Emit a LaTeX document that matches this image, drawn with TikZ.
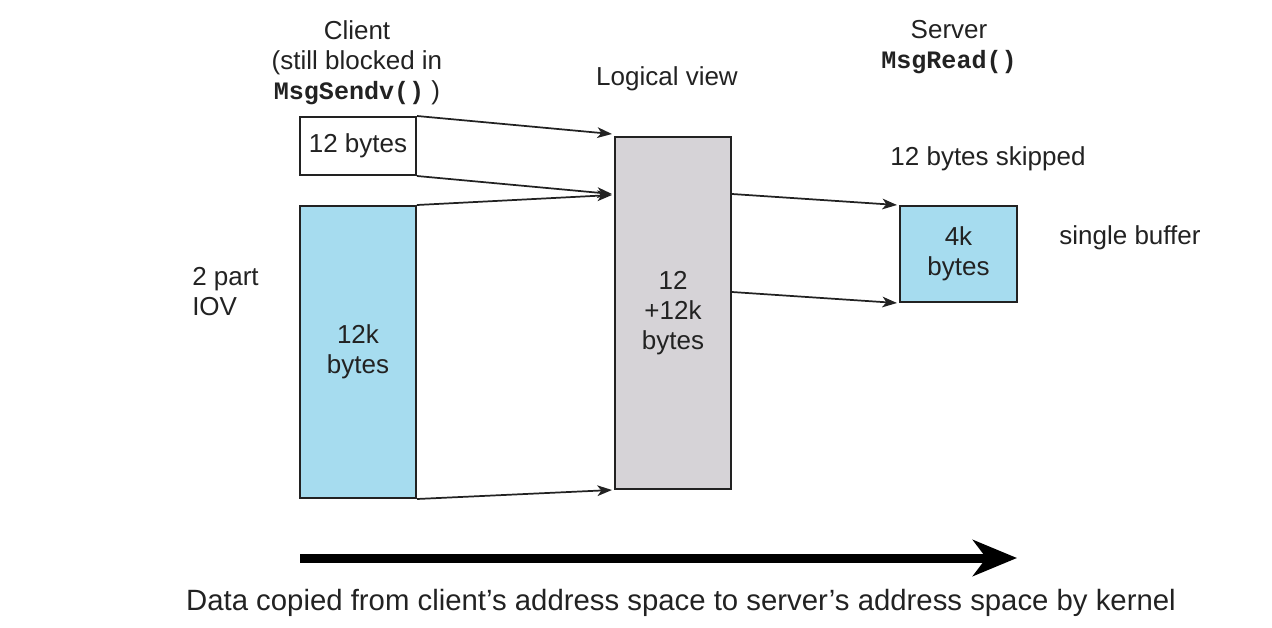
\documentclass[tikz,border=0pt]{standalone}
\usepackage{fontspec}
\setmainfont{Liberation Sans}
\newfontfamily\codefont{Liberation Mono}
\usetikzlibrary{arrows.meta}
\definecolor{bufblue}{HTML}{A6DCEF}
\definecolor{viewgray}{HTML}{D6D3D7}
\definecolor{ink}{HTML}{222222}
\newcommand{\codetext}[1]{{\codefont\bfseries\fontsize{18.8}{22.5}\selectfont #1}}
\begin{document}
\begin{tikzpicture}[x=0.75pt,y=-0.75pt,
  every node/.style={text=ink,font=\fontsize{19.5}{22.5}\selectfont,inner sep=0pt},
  buf/.style={draw=ink,line width=1.5pt,align=center},
  copyarrow/.style={draw=ink,line width=1.3pt,-{Stealth[length=11pt,width=8pt,inset=3pt]}}
]
\useasboundingbox (0,0) rectangle (1272,628);

% client buffers (two-part IOV)
\node[buf,fill=white,minimum width=87pt,minimum height=43.5pt] (hdr) at (358,146) {12 bytes};
\node[buf,fill=bufblue,minimum width=87pt,minimum height=219pt] (data) at (358,352) {12k\\bytes};

% logical view of the message
\node[buf,fill=viewgray,minimum width=87pt,minimum height=264pt] (view) at (673,313) {12\\+12k\\bytes};

% server receive buffer
\node[buf,fill=bufblue,minimum width=87.75pt,minimum height=72pt] (rbuf) at (958.5,254) {4k\\bytes};

% labels
\node[align=center] (client) at (357,63) {Client\\(still blocked in\\\codetext{MsgSendv()} )};
\node (logical) at (667,79) {Logical view};
\node[align=center] (server) at (949,47) {Server\\\codetext{MsgRead()}};
\node (skip) at (988,159) {12 bytes skipped};
\node (single) at (1130,238) {single buffer};
\node[align=left,anchor=west] (iov) at (192,292) {2 part\\IOV};

% gather: client parts into the logical view
\draw[copyarrow] (hdr.north east) -- ([shift={(-2,-2)}]view.north west);
\draw[copyarrow] (hdr.south east) -- ([shift={(-2,58)}]view.north west);
\draw[copyarrow] (data.north east) -- ([shift={(-2,59)}]view.north west);
\draw[copyarrow] (data.south east) -- ([shift={(-2,0)}]view.south west);

% scatter: the skipped offset into the server buffer
\draw[copyarrow] ([shift={(0,58)}]view.north east) -- ([shift={(-2,0)}]rbuf.north west);
\draw[copyarrow] ([shift={(0,156)}]view.north east) -- ([shift={(-2,0)}]rbuf.south west);

% direction of the kernel copy
\coordinate (kstart) at (300,558);
\coordinate (kend) at (1017,558);
\draw[draw=black,line width=6.75pt,-{Stealth[length=33pt,width=27pt,inset=10pt]}] (kstart) -- (kend);
\node[font=\fontsize{22}{26}\selectfont] (caption) at (681,603) {Data copied from client’s address space to server’s address space by kernel};
\end{tikzpicture}
\end{document}
